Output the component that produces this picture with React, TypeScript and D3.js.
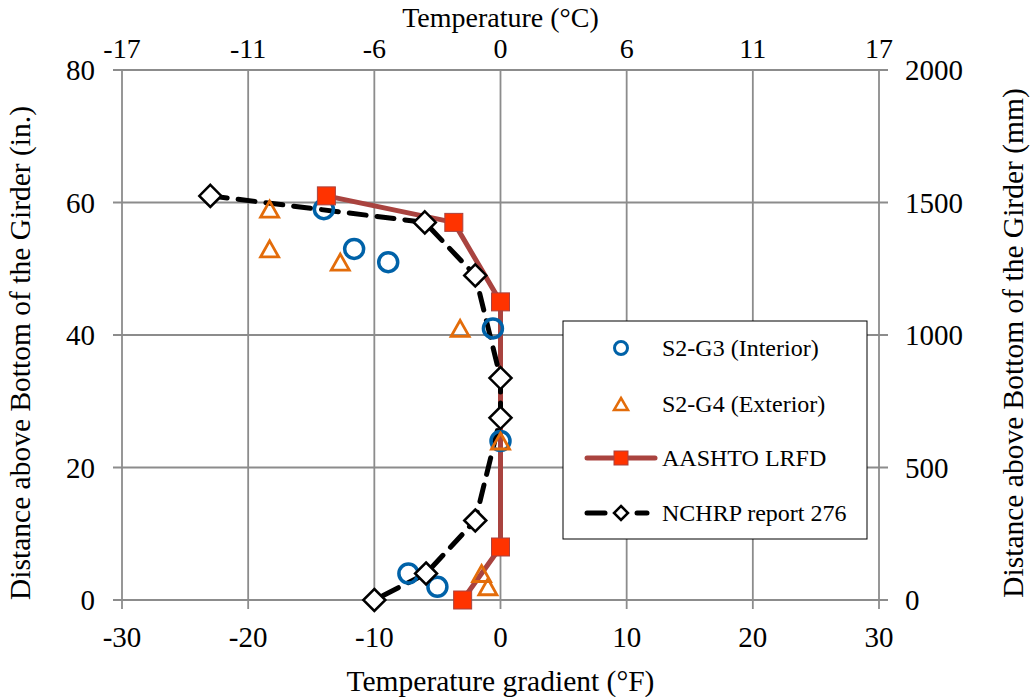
import React from "react";
import * as d3 from "d3";

// measured series (temperature in °F, depth in inches)
const g3Temp = [-14, -11.6, -8.9, -0.6, 0, -7.3, -5.0];
const g3Depth = [59, 53, 51, 41, 24, 4, 2];
const g4Temp = [-18.3, -18.3, -12.7, -3.2, 0, -1.5, -1.0];
const g4Depth = [59, 53, 51, 41, 24, 4, 2];
const aashtoTemp = [-13.8, -3.7, 0, 0, -3];
const aashtoDepth = [61, 57, 45, 8, 0];
const nchrpTemp = [-23, -6, -2, 0, 0, -2, -5.9, -10];
const nchrpDepth = [61, 57, 49, 33.5, 27.5, 12, 4, 0];

const xTicks = [-30, -20, -10, 0, 10, 20, 30];
const celsiusLabels = ["-17", "-11", "-6", "0", "6", "11", "17"];
const yTicks = [0, 20, 40, 60, 80];
const mmTicks = [0, 500, 1000, 1500, 2000];

const legendItems = ["S2-G3 (Interior)", "S2-G4 (Exterior)", "AASHTO LRFD", "NCHRP report 276"];

const W = 1032;
const H = 697;
const FONT = "'Liberation Serif', 'Times New Roman', serif";
const GRID = "#8c8c8c";
const BLUE = "#0062a8";
const ORANGE = "#e36c0a";
const RED_LINE = "#a9433f";
const RED_FILL = "#ff3300";
const TICK = 29;
const TITLE = 29.5;

const x = d3.scaleLinear().domain([-30, 30]).range([122, 879]);
const y = d3.scaleLinear().domain([0, 80]).range([600, 70]);
const yMm = d3.scaleLinear().domain([0, 2000]).range([600, 70]);

const zip = (a: number[], b: number[]) => a.map((v, i) => [v, b[i]] as [number, number]);

const line = d3
  .line<[number, number]>()
  .x(d => x(d[0]))
  .y(d => y(d[1]));

const tri = (cx: number, cy: number, w: number, h: number) =>
  `M${cx},${cy - h / 2}L${cx + w / 2},${cy + h / 2}L${cx - w / 2},${cy + h / 2}Z`;
const diamond = (cx: number, cy: number, r: number) =>
  `M${cx},${cy - r}L${cx + r},${cy}L${cx},${cy + r}L${cx - r},${cy}Z`;

export default function App() {
  const g3 = zip(g3Temp, g3Depth);
  const g4 = zip(g4Temp, g4Depth);
  const aashto = zip(aashtoTemp, aashtoDepth);
  const nchrp = zip(nchrpTemp, nchrpDepth);

  const legX = 563;
  const legY = 321;
  const legRows = [348, 404, 458, 513];
  const symX = 621;

  return (
    <svg
      width={W}
      height={H}
      style={{ position: "absolute", left: 0, top: 0, background: "#fff" }}
      fontFamily={FONT}
    >
      {/* grid */}
      {xTicks.map(t => (
        <line key={"vx" + t} x1={x(t)} x2={x(t)} y1={y(80)} y2={609} stroke={GRID} strokeWidth={1.8} />
      ))}
      {yTicks.map(t => (
        <line key={"hy" + t} x1={113} x2={888} y1={y(t)} y2={y(t)} stroke={GRID} strokeWidth={1.8} />
      ))}

      {/* bottom axis */}
      {xTicks.map(t => (
        <text key={"bx" + t} x={x(t)} y={647} fontSize={TICK} textAnchor="middle">
          {t}
        </text>
      ))}
      <text x={x(0)} y={691} fontSize={TITLE} textAnchor="middle">
        Temperature gradient (°F)
      </text>

      {/* top axis */}
      {xTicks.map((t, i) => (
        <text key={"tx" + t} x={x(t)} y={58} fontSize={28} textAnchor="middle">
          {celsiusLabels[i]}
        </text>
      ))}
      <text x={x(0)} y={27} fontSize={28} textAnchor="middle">
        Temperature (°C)
      </text>

      {/* left axis */}
      {yTicks.map(t => (
        <text key={"ly" + t} x={95} y={y(t)} fontSize={TICK} textAnchor="end" dominantBaseline="central">
          {t}
        </text>
      ))}
      <text transform={`translate(30,353) rotate(-90)`} fontSize={TITLE} textAnchor="middle">
        Distance above Bottom of the Girder (in.)
      </text>

      {/* right axis */}
      {mmTicks.map(t => (
        <text key={"ry" + t} x={905} y={yMm(t)} fontSize={TICK} textAnchor="start" dominantBaseline="central">
          {t}
        </text>
      ))}
      <text transform={`translate(1023,343) rotate(-90)`} fontSize={TITLE} textAnchor="middle">
        Distance above Bottom of the Girder (mm)
      </text>

      {/* lines */}
      <path d={line(aashto) || ""} fill="none" stroke={RED_LINE} strokeWidth={5} strokeLinejoin="round" />
      <path
        d={line(nchrp) || ""}
        fill="none"
        stroke="#000"
        strokeWidth={5}
        strokeDasharray="17 11"
        strokeLinecap="round"
        strokeLinejoin="round"
      />

      {/* markers */}
      {g3.map((d, i) => (
        <circle key={"c" + i} cx={x(d[0])} cy={y(d[1])} r={9.5} fill="none" stroke={BLUE} strokeWidth={3.5} />
      ))}
      {g4.map((d, i) => (
        <path key={"t" + i} d={tri(x(d[0]), y(d[1]), 18, 16)} fill="none" stroke={ORANGE} strokeWidth={2.8} />
      ))}
      {aashto.map((d, i) => (
        <rect
          key={"s" + i}
          x={x(d[0]) - 9}
          y={y(d[1]) - 9}
          width={18}
          height={18}
          fill={RED_FILL}
          stroke={RED_LINE}
          strokeWidth={1}
        />
      ))}
      {nchrp.map((d, i) => (
        <path key={"d" + i} d={diamond(x(d[0]), y(d[1]), 11)} fill="#fff" stroke="#000" strokeWidth={2.5} />
      ))}

      {/* legend */}
      <rect x={legX} y={legY} width={304} height={218} fill="#fff" stroke="#000" strokeWidth={1} />
      <circle cx={symX} cy={legRows[0]} r={6.5} fill="none" stroke={BLUE} strokeWidth={3} />
      <path d={tri(symX, legRows[1], 14, 12)} fill="none" stroke={ORANGE} strokeWidth={2.5} />
      <line x1={587} x2={655} y1={legRows[2]} y2={legRows[2]} stroke={RED_LINE} strokeWidth={5} strokeLinecap="round" />
      <rect x={symX - 7} y={legRows[2] - 7} width={14} height={14} fill={RED_FILL} stroke={RED_LINE} strokeWidth={1} />
      <line x1={587} x2={605} y1={legRows[3]} y2={legRows[3]} stroke="#000" strokeWidth={5} strokeLinecap="round" />
      <line x1={637} x2={647} y1={legRows[3]} y2={legRows[3]} stroke="#000" strokeWidth={5} strokeLinecap="round" />
      <path d={diamond(symX, legRows[3], 7)} fill="#fff" stroke="#000" strokeWidth={2.5} />
      {legendItems.map((s, i) => (
        <text key={s} x={662} y={legRows[i]} fontSize={24} dominantBaseline="central">
          {s}
        </text>
      ))}
    </svg>
  );
}
